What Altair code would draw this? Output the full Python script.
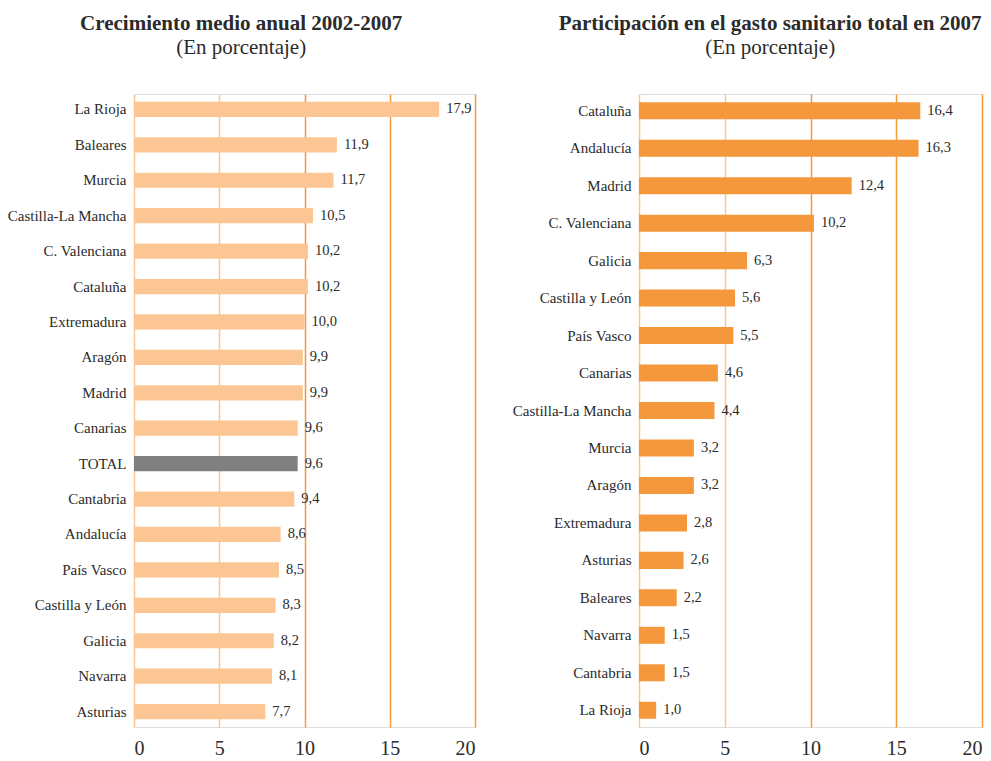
import altair as alt
import pandas as pd

# Left panel data
regions_growth = ["La Rioja", "Baleares", "Murcia", "Castilla-La Mancha", "C. Valenciana",
                  "Cataluña", "Extremadura", "Aragón", "Madrid", "Canarias", "TOTAL",
                  "Cantabria", "Andalucía", "País Vasco", "Castilla y León", "Galicia",
                  "Navarra", "Asturias"]
growth = [17.9, 11.9, 11.7, 10.5, 10.2, 10.2, 10.0, 9.9, 9.9, 9.6, 9.6, 9.4, 8.6, 8.5, 8.3, 8.2, 8.1, 7.7]

# Right panel data
regions_share = ["Cataluña", "Andalucía", "Madrid", "C. Valenciana", "Galicia", "Castilla y León",
                 "País Vasco", "Canarias", "Castilla-La Mancha", "Murcia", "Aragón", "Extremadura",
                 "Asturias", "Baleares", "Navarra", "Cantabria", "La Rioja"]
share = [16.4, 16.3, 12.4, 10.2, 6.3, 5.6, 5.5, 4.6, 4.4, 3.2, 3.2, 2.8, 2.6, 2.2, 1.5, 1.5, 1.0]

ticks = [0, 5, 10, 15, 20]

FONT = "'Liberation Serif', 'DejaVu Serif', serif"
TEXT = "#2b2b2b"
PEACH = "#fbc693"
ORANGE = "#f5973b"
GREY = "#808080"

df_a = pd.DataFrame({"region": regions_growth, "value": growth})
df_b = pd.DataFrame({"region": regions_share, "value": share})

grid_color = {"condition": {"test": "datum.value <= 5", "value": PEACH}, "value": ORANGE}


def panel(df, title, width, pad_inner, bar_color, title_dx):
    x = alt.X("value:Q", scale=alt.Scale(domain=[0, 20], nice=False),
              axis=alt.Axis(values=ticks, title=None, domain=False, ticks=False, grid=True,
                            gridColor=grid_color, gridWidth=1.5, labelFont=FONT,
                            labelFontSize=20, labelColor=TEXT, labelPadding=11))
    y = alt.Y("region:N", sort=list(df["region"]),
              scale=alt.Scale(paddingInner=pad_inner, paddingOuter=0.22),
              axis=alt.Axis(title=None, domain=False, ticks=False, labelFont=FONT,
                            labelFontSize=15, labelColor=TEXT, labelPadding=8))
    base = alt.Chart(df)
    bars = base.mark_bar().encode(
        x=x, y=y,
        color=alt.condition("datum.region == 'TOTAL'", alt.value(GREY), alt.value(bar_color)),
    )
    labels = base.transform_calculate(
        label="replace(format(datum.value, '.1f'), '.', ',')"
    ).mark_text(align="left", baseline="middle", dx=7, font=FONT, fontSize=14.5, color=TEXT).encode(
        x="value:Q", y=alt.Y("region:N", sort=list(df["region"])), text="label:N"
    )
    return alt.layer(bars, labels).properties(
        width=width, height=633,
        title=alt.TitleParams(text=title, subtitle="(En porcentaje)", font=FONT, fontSize=21,
                              fontWeight="bold", color=TEXT, subtitleFont=FONT,
                              subtitleFontSize=21, subtitleColor=TEXT, anchor="middle",
                              frame="bounds", offset=36, subtitlePadding=3, dx=title_dx),
    )


left = panel(df_a, "Crecimiento medio anual 2002-2007", 341, 0.57, PEACH, 0)
right = panel(df_b, "Participación en el gasto sanitario total en 2007", 343, 0.546, ORANGE, 23)

chart = alt.hconcat(left, right, spacing=35).properties(
    padding={"left": 6, "top": 12, "right": 6, "bottom": 0}
).configure_view(stroke=None).configure(background="white")

chart.save("out.html", embed_options={"renderer": "svg", "actions": False})
